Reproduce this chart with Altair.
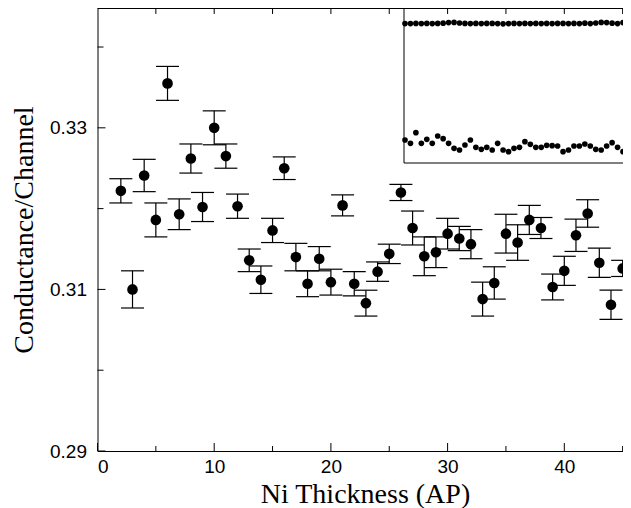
import altair as alt
import pandas as pd

# ---- main series: Ni thickness (AP) vs conductance per channel ----
thickness = list(range(2, 46))
conductance = [
    0.3222, 0.3100, 0.3241, 0.3186, 0.3355, 0.3193, 0.3262, 0.3202, 0.3300, 0.3265,
    0.3203, 0.3136, 0.3112, 0.3173, 0.3250, 0.3140, 0.3107, 0.3138, 0.3109, 0.3204,
    0.3107, 0.3083, 0.3122, 0.3144, 0.3220, 0.3176, 0.3141, 0.3146, 0.3169, 0.3163,
    0.3156, 0.3088, 0.3108, 0.3169, 0.3158, 0.3186, 0.3176, 0.3103, 0.3123, 0.3167,
    0.3194, 0.3133, 0.3081, 0.3126,
]
error = [
    0.0015, 0.0023, 0.0020, 0.0021, 0.0021, 0.0019, 0.0018, 0.0018, 0.0021, 0.0015,
    0.0015, 0.0014, 0.0017, 0.0015, 0.0014, 0.0017, 0.0016, 0.0015, 0.0016, 0.0013,
    0.0015, 0.0016, 0.0012, 0.0012, 0.0010, 0.0021, 0.0024, 0.0019, 0.0019, 0.0015,
    0.0018, 0.0021, 0.0020, 0.0024, 0.0022, 0.0018, 0.0013, 0.0016, 0.0018, 0.0020,
    0.0017, 0.0018, 0.0018, 0.0010,
]

# ---- inset series ----
inset_index = list(range(1, 43))
inset_upper = [
    0.897, 0.897, 0.898, 0.897, 0.898, 0.897, 0.898, 0.899, 0.902, 0.903,
    0.900, 0.898, 0.897, 0.898, 0.897, 0.898, 0.898, 0.897, 0.896, 0.897,
    0.898, 0.897, 0.898, 0.897, 0.898, 0.897, 0.898, 0.897, 0.898, 0.898,
    0.897, 0.898, 0.897, 0.899, 0.897, 0.900, 0.903, 0.902, 0.899, 0.897,
    0.902, 0.901,
]
inset_lower = [
    0.315, 0.2985, 0.3515, 0.2985, 0.3185, 0.2985, 0.335, 0.3215, 0.2985, 0.2735,
    0.265, 0.290, 0.315, 0.2785, 0.2685, 0.2785, 0.265, 0.2985, 0.265, 0.2565,
    0.2735, 0.2785, 0.3065, 0.2935, 0.2785, 0.2785, 0.2885, 0.2865, 0.285, 0.2565,
    0.265, 0.285, 0.285, 0.295, 0.285, 0.2685, 0.265, 0.285, 0.3015, 0.2785,
    0.2565, 0.2735,
]

x_labels = [0, 10, 20, 30, 40]
x_ticks_major = [0, 10, 20, 30, 40]
x_ticks_minor = [5, 15, 25, 35, 45]
x_ticks_top = [5, 10, 15, 20, 25, 30, 35, 40, 45]
y_labels = [0.29, 0.31, 0.33]
y_ticks_major = [0.29, 0.31, 0.33]
y_ticks_minor = [0.30, 0.32, 0.34]

X_DOMAIN = [0, 45.03]
Y_DOMAIN = [0.29, 0.34483]

W, H = 525.5, 443
INSET_LEFT, INSET_BOTTOM = 306.5, 155

main_df = pd.DataFrame({"x": thickness, "y": conductance, "err": error})
main_df["lo"] = main_df["y"] - main_df["err"]
main_df["hi"] = main_df["y"] + main_df["err"]

inset_df = pd.DataFrame({"k": inset_index, "upper": inset_upper, "lower": inset_lower})

X_SCALE = alt.Scale(domain=X_DOMAIN, nice=False, zero=False)
Y_SCALE = alt.Scale(domain=Y_DOMAIN, nice=False, zero=False)

X_AXIS = alt.Axis(
    orient="bottom", values=x_labels, format="d", ticks=False, domain=True,
    labelFontSize=19, labelPadding=6, title="Ni Thickness (AP)",
    titleFontSize=28, titleFontWeight="normal",
    titleX=267.5, titleY=51, titleAlign="center", titleBaseline="alphabetic")
Y_AXIS = alt.Axis(
    orient="left", values=y_labels, format=".2f", ticks=False, domain=True,
    labelFontSize=19, labelPadding=11, title="Conductance/Channel",
    titleFontSize=28, titleFontWeight="normal",
    titleX=-65.5, titleY=221.5, titleAngle=270, titleAlign="center",
    titleBaseline="alphabetic")


def X(field):
    return alt.X(field, scale=X_SCALE, axis=X_AXIS)


def Y(field):
    return alt.Y(field, scale=Y_SCALE, axis=Y_AXIS)


base = alt.Chart(main_df)

rules = base.mark_rule(color="black", strokeWidth=1.2).encode(
    x=X("x:Q"), y=Y("lo:Q"), y2="hi:Q")
caps_lo = base.mark_tick(orient="horizontal", size=23, thickness=1.2,
                         color="black", opacity=1).encode(x=X("x:Q"), y=Y("lo:Q"))
caps_hi = base.mark_tick(orient="horizontal", size=23, thickness=1.2,
                         color="black", opacity=1).encode(x=X("x:Q"), y=Y("hi:Q"))
points = base.mark_circle(size=113, color="black", opacity=1).encode(
    x=X("x:Q"), y=Y("y:Q"))


def x_tick_layer(values, y0, y1):
    return alt.Chart(pd.DataFrame({"t": values})).mark_rule(
        color="black", strokeWidth=1).encode(
        x=X("t:Q"), y=alt.value(y0), y2=alt.value(y1))


def y_tick_layer(values, x0, x1):
    return alt.Chart(pd.DataFrame({"t": values})).mark_rule(
        color="black", strokeWidth=1).encode(
        y=Y("t:Q"), x=alt.value(x0), x2=alt.value(x1))


one = alt.Chart(pd.DataFrame({"a": [0]}))
top_frame = one.mark_rule(color="black", strokeWidth=1).encode(
    x=alt.value(0), x2=alt.value(W), y=alt.value(0.5))
inset_left_line = one.mark_rule(color="black", strokeWidth=1).encode(
    x=alt.value(INSET_LEFT), y=alt.value(0), y2=alt.value(INSET_BOTTOM))
inset_bottom_line = one.mark_rule(color="black", strokeWidth=1).encode(
    x=alt.value(INSET_LEFT), x2=alt.value(W), y=alt.value(INSET_BOTTOM))

main_group = alt.layer(
    rules, caps_lo, caps_hi, points,
    x_tick_layer(x_ticks_major, H, H - 8),
    x_tick_layer(x_ticks_minor, H, H - 5),
    x_tick_layer(x_ticks_top, 0, 6),
    y_tick_layer(y_ticks_major, 0, 8),
    y_tick_layer(y_ticks_minor, 0, 6),
    top_frame, inset_left_line, inset_bottom_line,
)

# ---- inset ----
ix = alt.Scale(domain=[0.817, 0.817 + (W - INSET_LEFT) / 5.45],
               range=[INSET_LEFT, W], nice=False, zero=False)
iy = alt.Scale(domain=[0.2, 0.975], range=[INSET_BOTTOM, 0], nice=False, zero=False)

inset_base = alt.Chart(inset_df)
inset_lo = inset_base.mark_circle(size=32, color="black", opacity=1).encode(
    x=alt.X("k:Q", scale=ix, axis=None),
    y=alt.Y("lower:Q", scale=iy, axis=None),
)
inset_up = inset_base.mark_circle(size=32, color="black", opacity=1).encode(
    x=alt.X("k:Q", scale=ix, axis=None),
    y=alt.Y("upper:Q", scale=iy, axis=None),
)
inset_group = alt.layer(inset_lo, inset_up)

chart = alt.layer(main_group, inset_group).resolve_scale(
    x="independent", y="independent"
).properties(
    width=W, height=H,
    padding={"left": 89.5, "top": 0, "right": 0, "bottom": 60},
    autosize=alt.AutoSizeParams(type="none"),
).configure_view(stroke=None).configure_axis(
    grid=False, domainColor="black", domainWidth=1, tickColor="black",
    labelColor="black", titleColor="black",
    labelFont="Liberation Sans", titleFont="Liberation Serif",
)

chart.save("out.html", embed_options={"renderer": "svg", "actions": False})
